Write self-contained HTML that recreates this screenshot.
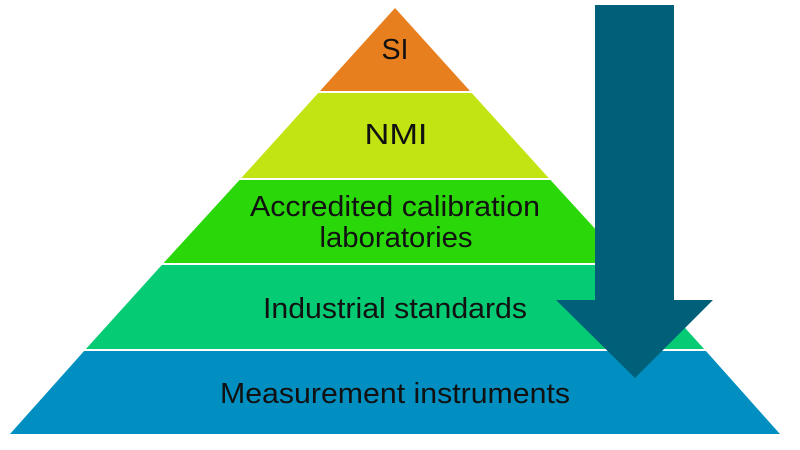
<!DOCTYPE html>
<html><head><style>html,body{margin:0;padding:0;background:#fff;}svg{display:block}</style></head>
<body>
<svg width="800" height="450" viewBox="0 0 800 450" xmlns="http://www.w3.org/2000/svg" font-family="Liberation Sans, sans-serif" font-size="29" fill="#111">
<polygon points="395,8 470,91 320,91" fill="#e87f1f"/>
<polygon points="318.2,93 471.8,93 548.7,178 241.3,178" fill="#c2e413"/>
<polygon points="239.5,180 550.5,180 626.4,263 163.6,263" fill="#2ad80a"/>
<polygon points="161.8,265 628.2,265 704.1,349 85.9,349" fill="#05cb74"/>
<polygon points="84.1,351 705.9,351 780,434 10,434" fill="#008fc0"/>
<polygon points="595,5 674,5 674,300 713,300 635,378 556,300 595,300" fill="#00607a"/>
<g text-anchor="middle" fill="#111">
<text x="395" y="59" textLength="27" lengthAdjust="spacingAndGlyphs">SI</text>
<text x="396" y="144" textLength="63" lengthAdjust="spacingAndGlyphs">NMI</text>
<text x="395" y="216" textLength="290" lengthAdjust="spacingAndGlyphs">Accredited calibration</text>
<text x="396" y="247" textLength="153" lengthAdjust="spacingAndGlyphs">laboratories</text>
<text x="395" y="318" textLength="264" lengthAdjust="spacingAndGlyphs">Industrial standards</text>
<text x="395" y="403" textLength="350" lengthAdjust="spacingAndGlyphs">Measurement instruments</text>
</g>
</svg>
</body></html>
